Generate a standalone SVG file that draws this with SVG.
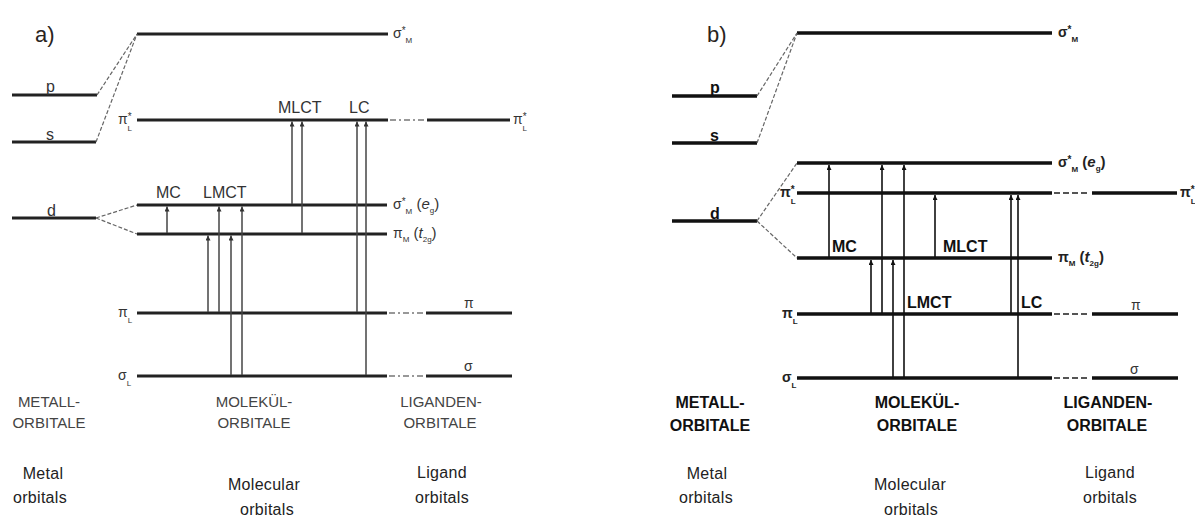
<svg xmlns="http://www.w3.org/2000/svg" width="1195" height="518" viewBox="0 0 1195 518">
<style>
text{font-family:"Liberation Sans",Arial,sans-serif;}
.lvA{stroke:#222;stroke-width:2.8;fill:none;}
.lvB{stroke:#111;stroke-width:3.4;fill:none;}
.dsh{stroke:#666;stroke-width:1.2;stroke-dasharray:4 2;fill:none;}
.rdA{stroke:#777;stroke-width:1.6;stroke-dasharray:6 3 2 3;fill:none;}
.rdB{stroke:#555;stroke-width:2;stroke-dasharray:6 3 6 3;fill:none;}
.arA{stroke:#444;stroke-width:1.5;fill:none;marker-end:url(#ha);}
.arB{stroke:#111;stroke-width:1.6;fill:none;marker-end:url(#hb);}
.sym{font-size:14px;fill:#333;}
.symB{font-size:14px;fill:#222;font-weight:bold;}
.sup{font-size:10px;}
.sub{font-size:8px;}
.par{font-size:15px;}
.it{font-style:italic;}
.orb{font-size:16px;fill:#333;}
.orbB{font-size:16px;fill:#111;font-weight:bold;}
.trA{font-size:16px;fill:#333;}
.trB{font-size:16px;fill:#111;font-weight:bold;}
.capA{font-size:15px;fill:#444;text-anchor:middle;}
.capB{font-size:16px;fill:#111;font-weight:bold;text-anchor:middle;}
.en{font-size:16px;fill:#222;text-anchor:middle;letter-spacing:0.3px;}
.pan{font-size:22px;fill:#2a2420;}
</style>
<defs>
<marker id="ha" viewBox="0 0 10 10" refX="10" refY="5" markerWidth="6" markerHeight="5" markerUnits="userSpaceOnUse" orient="auto"><path d="M0,0 L10,5 L0,10 z" fill="#333"/></marker>
<marker id="hb" viewBox="0 0 10 10" refX="10" refY="5" markerWidth="6" markerHeight="5" markerUnits="userSpaceOnUse" orient="auto"><path d="M0,0 L10,5 L0,10 z" fill="#111"/></marker>
</defs>

<!-- ===================== PANEL A ===================== -->
<text class="pan" x="35" y="42">a)</text>

<g id="a-p"><line class="lvA" x1="12" y1="95" x2="97" y2="95"/><text class="orb" x="46" y="92">p</text></g>
<g id="a-s"><line class="lvA" x1="12" y1="142" x2="96" y2="142"/><text class="orb" x="46" y="140">s</text></g>
<g id="a-d"><line class="lvA" x1="12" y1="218" x2="96" y2="218"/><text class="orb" x="47" y="216">d</text></g>

<g id="a-sigmaM"><line class="lvA" x1="137" y1="34" x2="388" y2="34"/>
<text class="sym" x="393" y="38">σ<tspan class="sup" dy="-4">*</tspan><tspan class="sub" dy="9">M</tspan></text></g>

<g id="a-piLstar"><line class="lvA" x1="137" y1="120" x2="388" y2="120"/><line class="rdA" x1="390" y1="120" x2="425" y2="120"/><line class="lvA" x1="427" y1="120" x2="510" y2="120"/>
<text class="sym" x="118" y="124">π<tspan class="sup" dy="-4">*</tspan><tspan class="sub" dx="-4" dy="11">L</tspan></text>
<text class="sym" x="513" y="124">π<tspan class="sup" dy="-4">*</tspan><tspan class="sub" dx="-4" dy="11">L</tspan></text></g>

<g id="a-sigmaMeg"><line class="lvA" x1="137" y1="205" x2="387" y2="205"/>
<text class="sym" x="393" y="209">σ<tspan class="sup" dy="-4">*</tspan><tspan class="sub" dy="9">M</tspan><tspan class="par" dy="-5"> (</tspan><tspan class="it par">e</tspan><tspan class="sub" dy="4">g</tspan><tspan class="par" dy="-4">)</tspan></text></g>

<g id="a-piMt2g"><line class="lvA" x1="137" y1="234" x2="387" y2="234"/>
<text class="sym" x="393" y="238">π<tspan class="sub" dy="4">M</tspan><tspan class="par" dy="-4"> (</tspan><tspan class="it par">t</tspan><tspan class="sub" dy="4">2g</tspan><tspan class="par" dy="-4">)</tspan></text></g>

<g id="a-piL"><line class="lvA" x1="137" y1="313" x2="387" y2="313"/><line class="rdA" x1="389" y1="313" x2="424" y2="313"/><line class="lvA" x1="426" y1="313" x2="512" y2="313"/>
<text class="sym" x="118" y="317">π<tspan class="sub" dy="6">L</tspan></text>
<text class="sym" x="464" y="308">π</text></g>

<g id="a-sigmaL"><line class="lvA" x1="137" y1="376" x2="387" y2="376"/><line class="rdA" x1="389" y1="376" x2="424" y2="376"/><line class="lvA" x1="426" y1="376" x2="512" y2="376"/>
<text class="sym" x="118" y="380">σ<tspan class="sub" dy="6">L</tspan></text>
<text class="sym" x="464" y="371">σ</text></g>

<g id="a-connectors">
<line class="dsh" x1="97" y1="95" x2="137" y2="34"/>
<line class="dsh" x1="96" y1="142" x2="137" y2="34"/>
<line class="dsh" x1="96" y1="218" x2="137" y2="205"/>
<line class="dsh" x1="96" y1="218" x2="137" y2="234"/>
<line class="arA" x1="167" y1="233" x2="167" y2="206.5"/>
<line class="arA" x1="208" y1="312" x2="208" y2="235.5"/>
<line class="arA" x1="219" y1="312" x2="219" y2="206.5"/>
<line class="arA" x1="231" y1="375" x2="231" y2="235.5"/>
<line class="arA" x1="242" y1="375" x2="242" y2="206.5"/>
<line class="arA" x1="292" y1="204" x2="292" y2="121.5"/>
<line class="arA" x1="302" y1="233" x2="302" y2="121.5"/>
<line class="arA" x1="357" y1="312" x2="357" y2="121.5"/>
<line class="arA" x1="366" y1="375" x2="366" y2="121.5"/>
</g>
<g id="a-trlabels">
<text class="trA" x="156" y="198">MC</text>
<text class="trA" x="203" y="198">LMCT</text>
<text class="trA" x="278" y="113">MLCT</text>
<text class="trA" x="349" y="113">LC</text>
</g>

<g id="a-captions">
<text class="capA" x="49" y="407">METALL-</text><text class="capA" x="49" y="428">ORBITALE</text>
<text class="capA" x="254" y="407">MOLEKÜL-</text><text class="capA" x="254" y="428">ORBITALE</text>
<text class="capA" x="441" y="407">LIGANDEN-</text><text class="capA" x="440" y="428">ORBITALE</text>
<text class="en" x="43" y="479">Metal</text><text class="en" x="40" y="503">orbitals</text>
<text class="en" x="264" y="490">Molecular</text><text class="en" x="267" y="515">orbitals</text>
<text class="en" x="442" y="478">Ligand</text><text class="en" x="442" y="503">orbitals</text>
</g>

<!-- ===================== PANEL B ===================== -->
<text class="pan" x="707" y="42">b)</text>

<g id="b-p"><line class="lvB" x1="672" y1="96" x2="757" y2="96"/><text class="orbB" x="710" y="93">p</text></g>
<g id="b-s"><line class="lvB" x1="672" y1="143" x2="757" y2="143"/><text class="orbB" x="710" y="141">s</text></g>
<g id="b-d"><line class="lvB" x1="672" y1="221" x2="757" y2="221"/><text class="orbB" x="710" y="219">d</text></g>

<g id="b-sigmaM"><line class="lvB" x1="797" y1="33" x2="1052" y2="33"/>
<text class="symB" x="1058" y="37">σ<tspan class="sup" dy="-4">*</tspan><tspan class="sub" dy="9">M</tspan></text></g>

<g id="b-sigmaMeg"><line class="lvB" x1="797" y1="163" x2="1052" y2="163"/>
<text class="symB" x="1058" y="167">σ<tspan class="sup" dy="-4">*</tspan><tspan class="sub" dy="9">M</tspan><tspan class="par" dy="-5"> (</tspan><tspan class="it par">e</tspan><tspan class="sub" dy="4">g</tspan><tspan class="par" dy="-4">)</tspan></text></g>

<g id="b-piLstar"><line class="lvB" x1="797" y1="193" x2="1052" y2="193"/><line class="rdB" x1="1054" y1="193" x2="1090" y2="193"/><line class="lvB" x1="1092" y1="193" x2="1177" y2="193"/>
<text class="symB" x="780" y="197">π<tspan class="sup" dy="-4">*</tspan><tspan class="sub" dx="-4" dy="11">L</tspan></text>
<text class="symB" x="1180" y="197">π<tspan class="sup" dy="-4">*</tspan><tspan class="sub" dx="-4" dy="11">L</tspan></text></g>

<g id="b-piMt2g"><line class="lvB" x1="797" y1="258" x2="1052" y2="258"/>
<text class="symB" x="1058" y="262">π<tspan class="sub" dy="4">M</tspan><tspan class="par" dy="-4"> (</tspan><tspan class="it par">t</tspan><tspan class="sub" dy="4">2g</tspan><tspan class="par" dy="-4">)</tspan></text></g>

<g id="b-piL"><line class="lvB" x1="797" y1="314" x2="1052" y2="314"/><line class="rdB" x1="1054" y1="314" x2="1090" y2="314"/><line class="lvB" x1="1092" y1="314" x2="1178" y2="314"/>
<text class="symB" x="782" y="318">π<tspan class="sub" dy="6">L</tspan></text>
<text class="sym" x="1131" y="310">π</text></g>

<g id="b-sigmaL"><line class="lvB" x1="797" y1="378" x2="1052" y2="378"/><line class="rdB" x1="1054" y1="378" x2="1090" y2="378"/><line class="lvB" x1="1092" y1="378" x2="1178" y2="378"/>
<text class="symB" x="782" y="382">σ<tspan class="sub" dy="6">L</tspan></text>
<text class="sym" x="1130" y="374">σ</text></g>

<g id="b-connectors">
<line class="dsh" x1="757" y1="96" x2="797" y2="33"/>
<line class="dsh" x1="757" y1="143" x2="797" y2="33"/>
<line class="dsh" x1="757" y1="221" x2="797" y2="163"/>
<line class="dsh" x1="757" y1="221" x2="797" y2="258"/>
<line class="arB" x1="829" y1="257" x2="829" y2="165"/>
<line class="arB" x1="871" y1="313" x2="871" y2="260"/>
<line class="arB" x1="882" y1="313" x2="882" y2="165"/>
<line class="arB" x1="893" y1="377" x2="893" y2="260"/>
<line class="arB" x1="904" y1="377" x2="904" y2="165"/>
<line class="arB" x1="935" y1="257" x2="935" y2="195"/>
<line class="arB" x1="1011" y1="313" x2="1011" y2="195"/>
<line class="arB" x1="1018" y1="377" x2="1018" y2="195"/>
</g>
<g id="b-trlabels">
<text class="trB" x="832" y="252">MC</text>
<text class="trB" x="943" y="252">MLCT</text>
<text class="trB" x="907" y="308">LMCT</text>
<text class="trB" x="1021" y="308">LC</text>
</g>

<g id="b-captions">
<text class="capB" x="710" y="408">METALL-</text><text class="capB" x="710" y="431">ORBITALE</text>
<text class="capB" x="917" y="408">MOLEKÜL-</text><text class="capB" x="917" y="431">ORBITALE</text>
<text class="capB" x="1108" y="408">LIGANDEN-</text><text class="capB" x="1107" y="431">ORBITALE</text>
<text class="en" x="707" y="479">Metal</text><text class="en" x="706" y="503">orbitals</text>
<text class="en" x="910" y="490">Molecular</text><text class="en" x="911" y="515">orbitals</text>
<text class="en" x="1110" y="478">Ligand</text><text class="en" x="1110" y="503">orbitals</text>
</g>
</svg>
